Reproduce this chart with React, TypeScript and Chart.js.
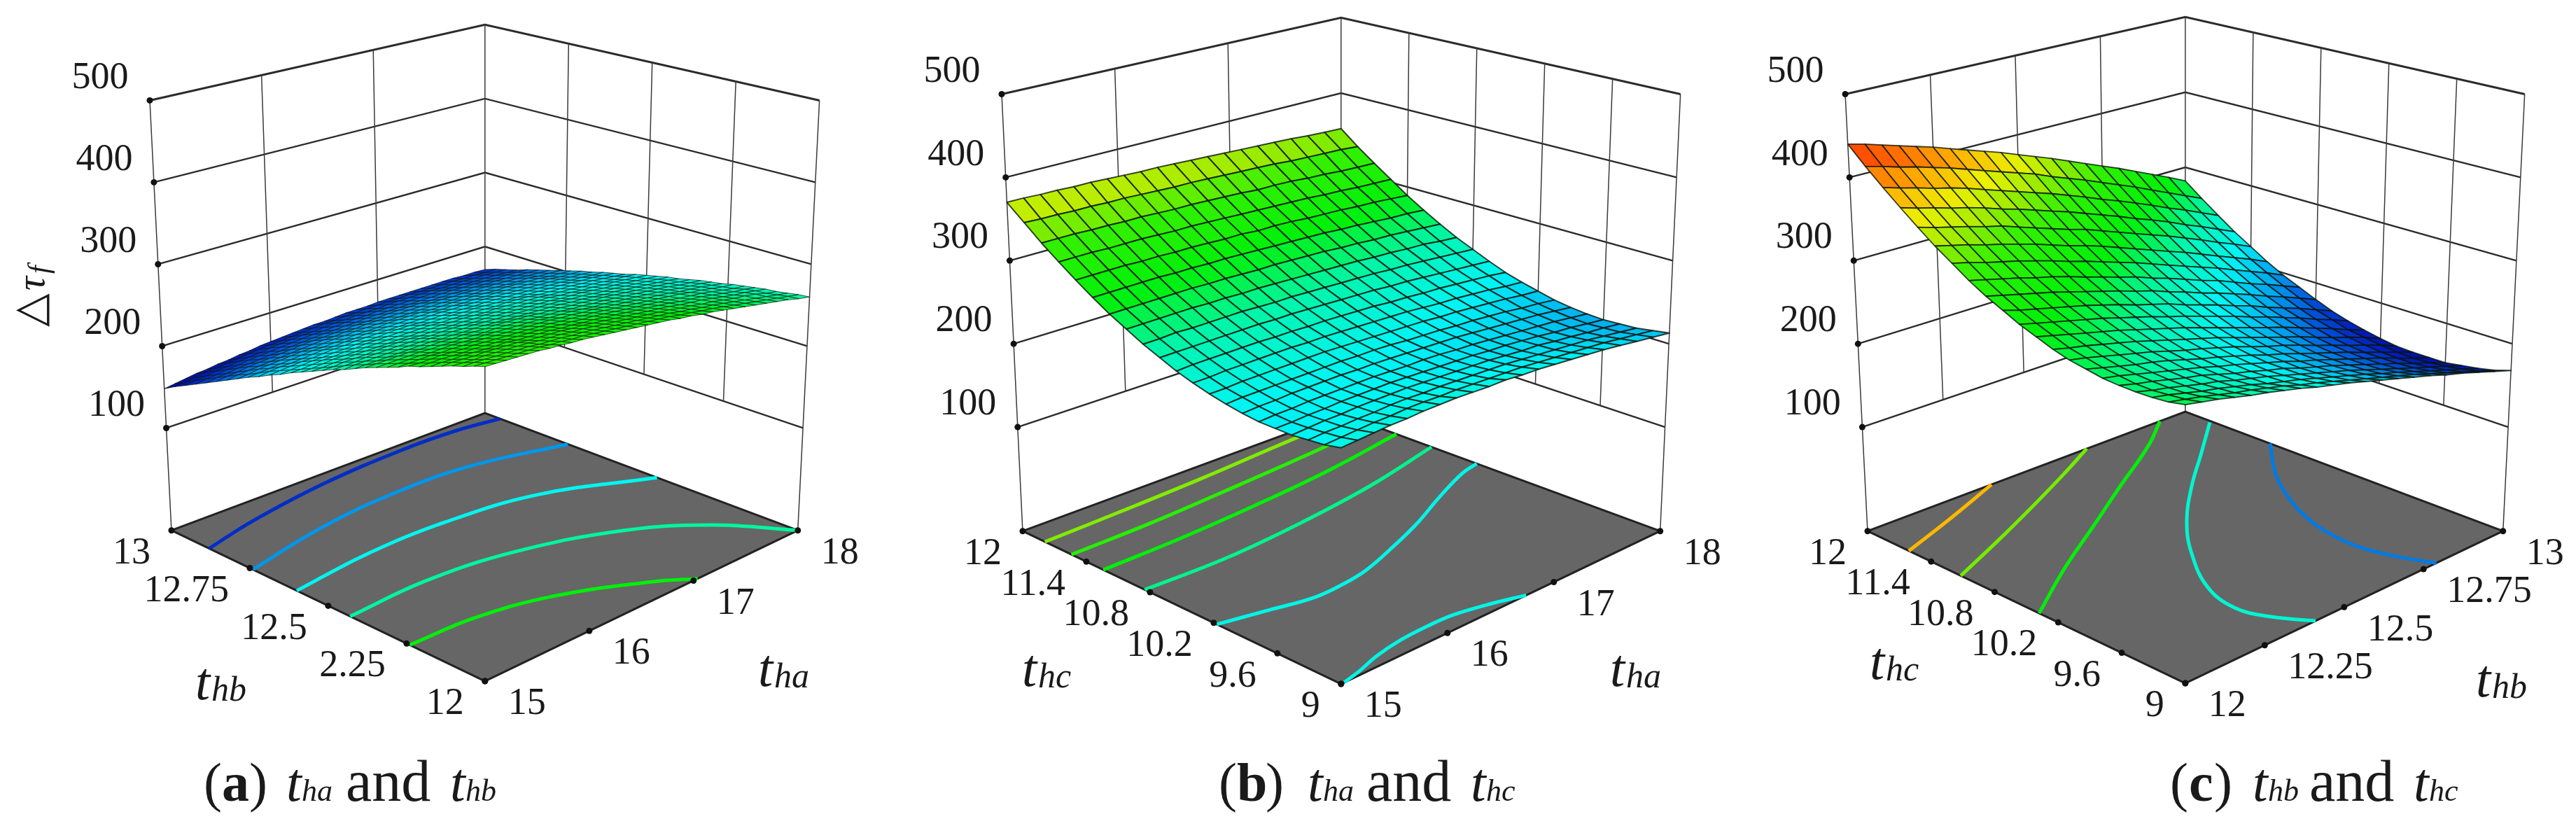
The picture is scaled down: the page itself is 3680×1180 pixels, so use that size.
import React, { useEffect, useRef } from "react";
import { Chart, registerables } from "chart.js";

Chart.register(...registerables);

const FLOOR_Z = -25;
const TOP_Z = 500;
const zTicks = [100, 200, 300, 400, 500];
const zTickLabels = ["100", "200", "300", "400", "500"];

const thaTicks = [15, 16, 17, 18];
const thaLabels = ["15", "16", "17", "18"];
const thbTicks = [12, 12.25, 12.5, 12.75, 13];
const thbLabelsA = ["12", "2.25", "12.5", "12.75", "13"];
const thbLabelsC = ["12", "12.25", "12.5", "12.75", "13"];
const thcTicks = [9, 9.6, 10.2, 10.8, 11.4, 12];
const thcLabels = ["9", "9.6", "10.2", "10.8", "11.4", "12"];

// rows: t_hb from 12 to 13; columns: t_ha from 15 to 18
const surfaceA = [
[325,324,323,322,321,320,318,317,315,314,312,310,308,306,304,302,300,298,295,293,290,288,285,282,279,276,273,270,267,263,260],
[321,320,319,318,317,316,315,313,312,310,309,307,305,303,301,299,297,295,293,290,288,285,283,280,277,274,271,268,265,262,259],
[316,316,315,314,313,312,311,309,308,307,305,304,302,300,298,296,294,292,290,288,285,283,280,278,275,272,269,266,263,260,257],
[312,311,310,310,309,308,307,306,304,303,302,300,299,297,295,293,291,289,287,285,283,280,278,275,273,270,267,265,262,258,255],
[307,307,306,305,305,304,303,302,300,299,298,297,295,294,292,290,288,286,284,282,280,278,275,273,271,268,265,262,260,257,254],
[302,302,301,301,300,299,298,298,296,295,294,293,291,290,288,287,285,283,281,279,277,275,273,270,268,266,263,260,257,255,252],
[297,297,297,296,295,295,294,293,292,291,290,289,288,286,285,283,282,280,278,276,274,272,270,268,265,263,261,258,255,252,250],
[293,292,292,292,291,290,290,289,288,287,286,285,284,283,281,280,278,277,275,273,271,269,267,265,263,261,258,256,253,250,248],
[287,287,287,287,286,286,285,285,284,283,282,281,280,279,278,276,275,273,272,270,268,266,264,262,260,258,255,253,251,248,245],
[282,282,282,282,281,281,281,280,279,279,278,277,276,275,274,272,271,270,268,266,265,263,261,259,257,255,253,250,248,246,243],
[277,277,277,277,277,276,276,275,275,274,273,273,272,271,270,268,267,266,264,263,261,260,258,256,254,252,250,248,245,243,241],
[272,272,272,272,272,271,271,271,270,270,269,268,268,267,266,265,263,262,261,259,258,256,255,253,251,249,247,245,243,240,238],
[266,266,266,266,266,266,266,266,265,265,264,264,263,262,261,260,259,258,257,256,254,253,251,249,248,246,244,242,240,238,235],
[260,261,261,261,261,261,261,261,261,260,260,259,259,258,257,256,255,254,253,252,251,249,248,246,244,243,241,239,237,235,233],
[255,255,255,256,256,256,256,256,256,255,255,255,254,253,253,252,251,250,249,248,247,245,244,243,241,239,238,236,234,232,230],
[249,249,250,250,250,251,251,251,251,250,250,250,249,249,248,248,247,246,245,244,243,242,240,239,237,236,234,233,231,229,227],
[243,243,244,244,245,245,245,245,245,245,245,245,245,244,244,243,242,242,241,240,239,238,236,235,234,232,231,229,227,226,224],
[237,237,238,239,239,239,240,240,240,240,240,240,240,239,239,238,238,237,236,236,235,234,232,231,230,229,227,226,224,222,220],
[231,231,232,233,233,234,234,235,235,235,235,235,235,234,234,234,233,233,232,231,230,229,228,227,226,225,224,222,221,219,217],
[224,225,226,227,227,228,228,229,229,229,230,230,230,229,229,229,228,228,227,227,226,225,224,223,222,221,220,218,217,215,214],
[218,219,220,221,221,222,223,223,224,224,224,224,224,224,224,224,224,223,223,222,222,221,220,219,218,217,216,215,213,212,210],
[211,213,214,214,215,216,217,217,218,218,219,219,219,219,219,219,219,218,218,217,217,216,216,215,214,213,212,211,209,208,207],
[205,206,207,208,209,210,211,211,212,212,213,213,213,214,214,214,214,213,213,213,212,212,211,210,210,209,208,207,205,204,203],
[198,199,201,202,203,204,205,205,206,207,207,208,208,208,208,208,208,208,208,208,207,207,206,206,205,204,203,203,201,200,199],
[191,193,194,195,196,197,198,199,200,201,201,202,202,203,203,203,203,203,203,203,203,202,202,201,201,200,199,198,197,196,195],
[184,186,187,189,190,191,192,193,194,195,195,196,196,197,197,197,198,198,198,198,197,197,197,196,196,195,195,194,193,192,191],
[177,179,180,182,183,184,185,186,187,188,189,190,190,191,191,192,192,192,192,192,192,192,192,192,191,191,190,189,189,188,187],
[170,172,173,175,176,178,179,180,181,182,183,184,184,185,186,186,186,187,187,187,187,187,187,187,186,186,185,185,184,183,182],
[163,165,166,168,169,171,172,173,175,176,177,178,178,179,180,180,181,181,181,182,182,182,182,182,181,181,181,180,180,179,178],
[156,157,159,161,162,164,165,167,168,169,170,171,172,173,174,174,175,175,176,176,176,176,177,176,176,176,176,175,175,174,174],
[148,150,152,154,155,157,158,160,161,163,164,165,166,167,168,168,169,170,170,170,171,171,171,171,171,171,171,171,170,170,169],
];

// rows: t_hc from 9 to 12; columns: t_ha from 15 to 18
const surfaceB = [
[234,235,236,237,237,238,238,238,237,236,236,234,233,231,229,227,225,222,219,216,213],
[230,231,232,233,233,234,234,233,233,232,231,230,229,227,225,223,221,219,216,213,210],
[228,229,229,230,230,231,231,230,230,229,228,227,226,224,222,220,218,216,213,210,207],
[226,227,228,228,229,229,229,229,228,227,226,225,224,222,220,219,216,214,211,209,206],
[226,226,227,227,228,228,228,228,227,226,225,224,223,221,220,218,216,213,211,208,205],
[226,227,227,228,228,228,228,228,227,226,226,225,223,222,220,218,216,214,212,209,206],
[228,229,229,230,230,230,230,229,229,228,227,226,225,224,222,220,218,216,214,211,208],
[231,232,232,232,232,232,232,232,231,231,230,228,227,226,224,223,221,219,216,214,211],
[235,235,236,236,236,236,236,236,235,234,233,232,231,230,228,227,225,223,221,218,216],
[240,240,241,241,241,241,241,240,240,239,238,237,236,235,233,231,230,228,226,223,221],
[246,247,247,247,247,247,246,246,245,245,244,243,242,240,239,237,236,234,232,230,227],
[254,254,254,254,254,254,254,253,253,252,251,250,249,248,246,245,243,241,239,237,235],
[262,262,263,262,262,262,262,261,260,260,259,258,257,256,255,253,252,250,248,246,244],
[272,272,272,272,272,271,271,270,270,269,268,267,266,265,264,262,261,259,258,255,253],
[282,282,282,282,282,282,281,281,280,279,279,278,277,276,274,273,271,270,268,266,264],
[294,294,294,294,294,293,293,292,292,291,290,289,288,287,286,284,283,281,279,278,276],
[307,307,307,307,306,306,305,305,304,303,303,301,301,300,298,297,296,294,293,291,289],
[321,321,321,320,320,320,319,318,318,317,316,315,314,313,312,311,309,308,306,305,304],
[336,336,336,335,335,334,334,333,332,332,331,330,329,327,327,326,324,323,321,320,319],
[353,352,352,351,351,350,350,349,348,347,347,346,345,344,343,342,340,339,338,337,335],
[370,370,369,369,368,368,367,366,365,365,364,363,362,361,360,359,358,357,355,354,353],
];

// rows: t_hc from 9 to 12; columns: t_hb from 12 to 13
const surfaceC = [
[280,276,272,267,262,258,253,248,242,237,232,226,220,214,208,202,195,189,182,175,168],
[276,272,268,263,258,254,249,244,238,233,227,221,215,209,203,197,190,183,176,169,162],
[274,270,265,260,256,251,246,240,235,230,224,218,212,206,199,193,186,179,172,165,158],
[273,268,264,259,254,250,244,239,234,228,222,216,210,204,197,190,183,176,169,162,155],
[273,268,264,259,254,250,244,238,233,227,222,215,209,203,196,189,182,175,167,160,152],
[274,270,265,260,255,250,245,239,234,228,222,216,209,203,196,189,182,175,167,159,152],
[277,272,267,262,258,253,247,241,236,230,224,217,211,204,197,190,183,175,168,160,152],
[280,276,271,266,261,256,250,244,239,233,227,220,213,207,200,192,185,177,170,162,153],
[285,280,276,271,266,261,255,249,243,237,231,224,217,210,203,196,188,180,173,165,156],
[292,287,282,277,272,267,261,255,249,243,236,229,222,215,208,201,193,185,177,168,160],
[299,294,289,284,279,274,268,262,256,249,243,236,229,222,214,207,199,191,182,174,165],
[308,302,297,292,287,282,276,270,263,257,251,243,236,229,221,214,205,197,189,180,171],
[317,312,307,302,297,291,285,279,273,266,260,252,245,237,230,222,214,205,197,188,179],
[328,323,318,313,307,302,296,289,283,276,270,262,255,247,239,232,223,214,206,197,188],
[341,336,330,325,320,314,308,301,295,288,281,274,266,258,250,242,234,225,216,207,197],
[354,349,344,338,333,327,321,314,307,301,294,286,278,270,262,254,245,236,227,218,208],
[369,363,358,353,347,342,335,328,321,314,308,300,292,284,276,268,259,250,240,231,221],
[385,379,374,368,363,357,350,344,337,330,323,315,307,299,290,282,273,263,254,244,234],
[402,396,391,385,380,374,367,360,353,346,339,331,323,314,306,297,288,278,269,259,249],
[420,415,409,404,398,392,385,378,371,364,357,348,340,332,323,314,305,295,285,275,265],
[440,435,429,423,417,411,404,397,390,383,375,367,359,350,341,332,323,313,303,293,282],
];

// contours: right-axis values, left-axis values, level
const contoursA = [
  { level: 170, right: [15,15.54,16.35,17.16,17.64,18], left: [12.88,12.92,12.96,12.976,12.971,12.952] },
  { level: 200, right: [15,15.75,16.5,17.25,18], left: [12.74,12.79,12.815,12.805,12.735] },
  { level: 230, right: [15,15.75,16.5,17.25,18], left: [12.6,12.627,12.625,12.583,12.45] },
  { level: 260, right: [15,15.75,16.5,17.25,17.7,18], left: [12.43,12.439,12.403,12.301,12.17,12] },
  { level: 290, right: [15,15.6,16.2,16.8,17.04], left: [12.24,12.231,12.18,12.068,12] },
];
const contoursB = [
  { level: 234, right: [15.03,15.21,15.45,15.72,15.98,16.22,16.52,16.74], left: [9,9.04,9.11,9.156,9.168,9.156,9.08,9] },
  { level: 234, right: [15,15.41,15.74,16.02,16.28,16.67,17.03,17.45,17.82,18], left: [10.17,10.08,10.005,10.01,10.05,10.18,10.32,10.52,10.68,10.725] },
  { level: 264, right: [15,15.75,16.5,17.25,18], left: [10.85,10.83,10.88,10.98,11.15] },
  { level: 293, right: [15,15.75,16.5,17.25,18], left: [11.24,11.25,11.29,11.36,11.48] },
  { level: 320, right: [15,15.75,16.5,17.25,18], left: [11.54,11.55,11.59,11.64,11.71] },
  { level: 346, right: [15,15.75,16.5,17.25,18], left: [11.79,11.81,11.84,11.89,11.94] },
];
const contoursC = [
  { level: 392, right: [12,12.2,12.39], left: [11.61,11.8,12] },
  { level: 343, right: [12,12.2,12.4,12.55,12.69], left: [11.12,11.35,11.6,11.8,12] },
  { level: 293, right: [12,12.2,12.4,12.6,12.8,12.92], left: [10.38,10.74,11.07,11.41,11.75,12] },
  { level: 243, right: [12.41,12.357,12.332,12.363,12.462,12.568,12.706,12.849,12.994], left: [9,9.26,9.53,9.88,10.33,10.69,11.06,11.4,11.75] },
  { level: 193, right: [12.79,12.757,12.736,12.745,12.778,12.832,12.89,13], left: [9,9.27,9.585,9.915,10.24,10.56,10.82,11.2] },
];

const colorStops = [
  [140,0,0,120],[165,0,30,190],[185,0,90,220],[205,0,170,240],[228,0,245,245],[258,0,245,170],
  [290,0,240,10],[330,50,240,0],[350,150,235,0],[372,235,240,0],[395,255,175,0],[420,255,100,0],[445,255,30,0],
];

function colorFor(z: number) {
  if (z <= colorStops[0][0]) return `rgb(${colorStops[0].slice(1).join(",")})`;
  for (let i = 1; i < colorStops.length; i++) {
    const a = colorStops[i - 1], b = colorStops[i];
    if (z <= b[0]) {
      const t = (z - a[0]) / (b[0] - a[0]);
      return `rgb(${Math.round(a[1] + (b[1] - a[1]) * t)},${Math.round(a[2] + (b[2] - a[2]) * t)},${Math.round(a[3] + (b[3] - a[3]) * t)})`;
    }
  }
  return "rgb(255,30,0)";
}

const SERIF = '"Liberation Serif"';

const panels = [
  {
    floor: { F: [690,976], R: [1138,759], L: [241,759], B: [690,590] },
    top: { F: [690,297], R: [1169,140], L: [210,140], B: [690,31] },
    rightTicks: thaTicks, rightLabels: thaLabels,
    leftTicks: thbTicks, leftLabels: thbLabelsA,
    surface: surfaceA, contours: contoursA, mesh: 0.9,
    leftTitle: { x: 279, y: 999, sub: "hb" }, rightTitle: { x: 1083, y: 980, sub: "ha" },
    caption: { letter: "a", x: [291,317,356,409,431,494,643,665], s1: "ha", s2: "hb" },
  },
  {
    floor: { F: [1916,980], R: [2373,760], L: [1460,760], B: [1916,591] },
    top: { F: [1916,291], R: [2402,131], L: [1430,131], B: [1916,21] },
    rightTicks: thaTicks, rightLabels: thaLabels,
    leftTicks: thcTicks, leftLabels: thcLabels,
    surface: surfaceB, contours: contoursB, mesh: 2,
    leftTitle: { x: 1460, y: 980, sub: "hc" }, rightTitle: { x: 2300, y: 980, sub: "ha" },
    caption: { letter: "b", x: [1741,1767,1808,1868,1890,1952,2101,2123], s1: "ha", s2: "hc" },
  },
  {
    floor: { F: [3125,979], R: [3580,760], L: [2670,760], B: [3125,588] },
    top: { F: [3125,289], R: [3611,131], L: [2638,131], B: [3125,20] },
    rightTicks: thbTicks, rightLabels: thbLabelsC,
    leftTicks: thcTicks, leftLabels: thcLabels,
    surface: surfaceC, contours: contoursC, mesh: 1.8,
    leftTitle: { x: 2671, y: 970, sub: "hc" }, rightTitle: { x: 3537, y: 995, sub: "hb" },
    caption: { letter: "c", x: [3100,3127,3163,3218,3240,3299,3448,3470], s1: "hb", s2: "hc" },
  },
];

type Panel = (typeof panels)[number];

function project(p: Panel, u: number, v: number, z: number) {
  const w = (z - FLOOR_Z) / (TOP_Z - FLOOR_Z);
  const bil = (c: any, k: number) =>
    (1 - u) * (1 - v) * c.F[k] + u * (1 - v) * c.R[k] + (1 - u) * v * c.L[k] + u * v * c.B[k];
  return {
    x: bil(p.floor, 0) * (1 - w) + bil(p.top, 0) * w,
    y: bil(p.floor, 1) * (1 - w) + bil(p.top, 1) * w,
  };
}

function fracs(ticks: number[]) {
  const a = ticks[0], b = ticks[ticks.length - 1];
  return ticks.map((t) => (t - a) / (b - a));
}

const lineDefaults = { showLine: true, pointRadius: 0, tension: 0, fill: false, clip: false };

function panelDatasets(p: Panel) {
  const out: any[] = [];
  const us = fracs(p.rightTicks);
  const vs = fracs(p.leftTicks);
  const P = (u: number, v: number, z: number) => project(p, u, v, z);

  // wall grid
  zTicks.forEach((z) => {
    out.push({ ...lineDefaults, data: [P(0, 1, z), P(1, 1, z), P(1, 0, z)], borderColor: "#2b2b2b", borderWidth: z === 500 ? 3 : 2.4 });
  });
  us.slice(1, -1).forEach((u) => {
    out.push({ ...lineDefaults, data: [P(u, 1, 100), P(u, 1, 500)], borderColor: "#3a3a3a", borderWidth: 1.5 });
  });
  vs.slice(1, -1).forEach((v) => {
    out.push({ ...lineDefaults, data: [P(1, v, 100), P(1, v, 500)], borderColor: "#3a3a3a", borderWidth: 1.5 });
  });
  [[0, 1], [1, 1], [1, 0]].forEach(([u, v]) => {
    out.push({ ...lineDefaults, data: [P(u, v, FLOOR_Z), P(u, v, 500)], borderColor: "#3a3a3a", borderWidth: 1.5 });
  });

  // floor
  out.push({
    ...lineDefaults,
    data: [P(0, 0, FLOOR_Z), P(1, 0, FLOOR_Z), P(1, 1, FLOOR_Z), P(0, 1, FLOOR_Z), P(0, 0, FLOOR_Z)],
    fill: "shape", backgroundColor: "#666666", borderColor: "#222222", borderWidth: 3,
  });

  // contours
  const r0 = p.rightTicks[0], r1 = p.rightTicks[p.rightTicks.length - 1];
  const l0 = p.leftTicks[0], l1 = p.leftTicks[p.leftTicks.length - 1];
  p.contours.forEach((c) => {
    out.push({
      ...lineDefaults,
      tension: 0.4,
      data: c.right.map((r, i) => P((r - r0) / (r1 - r0), (c.left[i] - l0) / (l1 - l0), FLOOR_Z)),
      borderColor: colorFor(c.level),
      borderWidth: 5,
    });
  });

  // tick dots
  const dots: any[] = [];
  zTicks.forEach((z) => dots.push(P(0, 1, z)));
  us.forEach((u) => dots.push(P(u, 0, FLOOR_Z)));
  vs.forEach((v) => dots.push(P(0, v, FLOOR_Z)));
  out.push({ data: dots, showLine: false, pointRadius: 4.5, pointBackgroundColor: "#111", pointBorderWidth: 0, clip: false });

  // surface, painted from the back corner to the front corner
  const s = p.surface;
  const n = s.length;
  const m = s[0].length;
  for (let j = n - 2; j >= 0; j--) {
    for (let i = m - 2; i >= 0; i--) {
      const u0 = i / (m - 1), u1 = (i + 1) / (m - 1), v0 = j / (n - 1), v1 = (j + 1) / (n - 1);
      const a = P(u0, v0, s[j][i]);
      const b = P(u1, v0, s[j][i + 1]);
      const c = P(u1, v1, s[j + 1][i + 1]);
      const d = P(u0, v1, s[j + 1][i]);
      out.push({
        ...lineDefaults,
        data: [a, b, c, d, a],
        fill: "shape",
        backgroundColor: colorFor((s[j][i] + s[j][i + 1] + s[j + 1][i + 1] + s[j + 1][i]) / 4),
        borderColor: "rgba(10,20,10,0.8)",
        borderWidth: p.mesh,
        borderJoinStyle: "round",
      });
    }
  }
  return out;
}

function drawText(ctx: CanvasRenderingContext2D, font: string, text: string, x: number, y: number) {
  ctx.font = font;
  ctx.fillText(text, x, y);
}

const textPlugin = {
  id: "panelText",
  afterDatasetsDraw(chart: any) {
    const ctx: CanvasRenderingContext2D = chart.ctx;
    const sx = chart.scales.x, sy = chart.scales.y;
    const at = (pt: { x: number; y: number }) => ({ x: sx.getPixelForValue(pt.x), y: sy.getPixelForValue(pt.y) });
    ctx.save();
    ctx.fillStyle = "#1a1a1a";
    panels.forEach((p) => {
      const us = fracs(p.rightTicks);
      const vs = fracs(p.leftTicks);
      ctx.textBaseline = "middle";
      ctx.font = `54px ${SERIF}`;
      ctx.textAlign = "center";
      zTicks.forEach((z, i) => {
        const q = at(project(p, 0, 1, z));
        ctx.fillText(zTickLabels[i], q.x - 71, q.y - 32);
      });
      ctx.textAlign = "right";
      vs.forEach((v, i) => {
        const q = at(project(p, 0, v, FLOOR_Z));
        ctx.fillText(p.leftLabels[i], q.x - 30, q.y + 33);
      });
      ctx.textAlign = "left";
      us.forEach((u, i) => {
        const q = at(project(p, u, 0, FLOOR_Z));
        ctx.fillText(p.rightLabels[i], q.x + 33, q.y + 33);
      });
      ctx.textBaseline = "alphabetic";
      [p.leftTitle, p.rightTitle].forEach((t) => {
        drawText(ctx, `italic 76px ${SERIF}`, "t", t.x, t.y);
        drawText(ctx, `italic 50px ${SERIF}`, t.sub, t.x + 23, t.y + 2);
      });
      const c = p.caption;
      const base = 1144;
      drawText(ctx, `78px ${SERIF}`, "(", c.x[0], base);
      drawText(ctx, `bold 78px ${SERIF}`, c.letter, c.x[1], base);
      drawText(ctx, `78px ${SERIF}`, ")", c.x[2], base);
      drawText(ctx, `italic 78px ${SERIF}`, "t", c.x[3], base);
      drawText(ctx, `italic 44px ${SERIF}`, c.s1, c.x[4], base);
      drawText(ctx, `84px ${SERIF}`, "and", c.x[5], base);
      drawText(ctx, `italic 78px ${SERIF}`, "t", c.x[6], base);
      drawText(ctx, `italic 44px ${SERIF}`, c.s2, c.x[7], base);
    });
    // vertical axis title
    ctx.translate(63, 467);
    ctx.rotate(-Math.PI / 2);
    drawText(ctx, `62px "DejaVu Sans"`, "\u25B3", 0, 0);
    drawText(ctx, `italic 56px ${SERIF}`, "\u03C4", 52, 0);
    drawText(ctx, `italic 42px ${SERIF}`, "f", 76, 6);
    ctx.restore();
  },
};

export default function App() {
  const ref = useRef<HTMLCanvasElement>(null);
  useEffect(() => {
    document.body.style.margin = "0";
    const datasets = panels.flatMap((p) => panelDatasets(p)).reverse();
    const chart = new Chart(ref.current as HTMLCanvasElement, {
      type: "scatter",
      data: { datasets },
      plugins: [textPlugin],
      options: {
        animation: false,
        responsive: false,
        devicePixelRatio: 1,
        events: [],
        layout: { padding: 0 },
        plugins: { legend: { display: false }, tooltip: { enabled: false }, title: { display: false } },
        scales: {
          x: { type: "linear", min: 0, max: 3680, display: false },
          y: { type: "linear", min: 0, max: 1180, reverse: true, display: false },
        },
      },
    } as any);
    return () => chart.destroy();
  }, []);
  return (
    <div style={{ position: "absolute", left: 0, top: 0, width: 3680, height: 1180, background: "#fff" }}>
      <canvas ref={ref} width={3680} height={1180} style={{ display: "block" }} />
    </div>
  );
}
